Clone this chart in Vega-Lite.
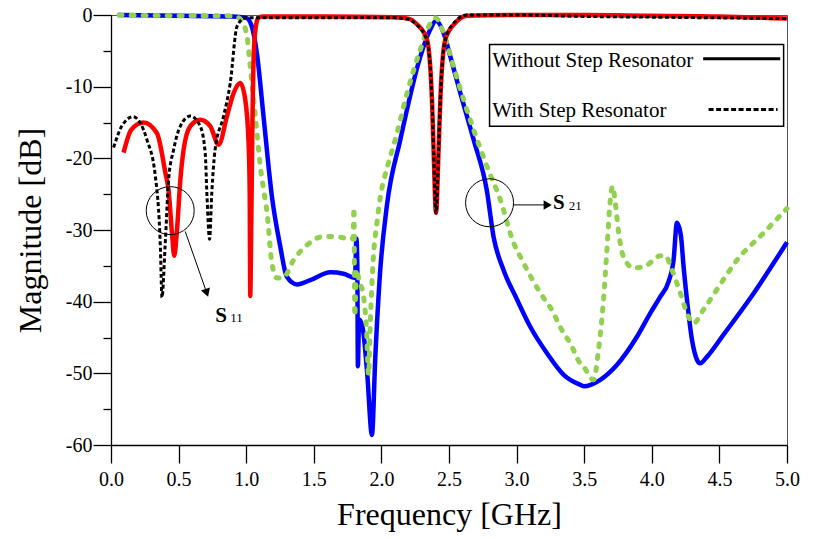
{
  "$schema": "https://vega.github.io/schema/vega-lite/v6.json",
  "width": 676,
  "height": 430,
  "autosize": {"type": "none"},
  "padding": {"left": 111, "top": 15, "right": 32, "bottom": 94},
  "background": "white",
  "config": {
    "view": {"stroke": "#555", "strokeWidth": 1},
    "font": "Liberation Serif",
    "style": {"guide-label": {"font": "Liberation Serif", "fontSize": 20}, "guide-title": {"font": "Liberation Serif", "fontSize": 32}},
    "axis": {
      "grid": false, "domainColor": "black", "tickColor": "black", "domainWidth": 1.3, "tickWidth": 1.3,
      "labelColor": "black", "titleColor": "black", "labelFont": "Liberation Serif", "titleFont": "Liberation Serif",
      "labelFontSize": 20, "titleFontSize": 32, "titleFontWeight": "normal", "labelFlush": false, "labelOverlap": false
    }
  },
  "datasets": {
    "s11a": [
      {"f":0.093,"db":-19.2},{"f":0.15,"db":-16.0},{"f":0.241,"db":-15.0},{"f":0.34,"db":-16.5},{"f":0.402,"db":-22},{"f":0.426,"db":-24.5},{"f":0.451,"db":-30.4},{"f":0.468,"db":-33.6},{"f":0.488,"db":-30},{"f":0.513,"db":-23},{"f":0.537,"db":-18.8},{"f":0.587,"db":-15.5},{"f":0.66,"db":-14.6},{"f":0.734,"db":-15.5},{"f":0.796,"db":-18.1},{"f":0.858,"db":-14.1},{"f":0.907,"db":-10.9},{"f":0.956,"db":-9.5},{"f":0.993,"db":-11.8},{"f":1.018,"db":-18},{"f":1.026,"db":-25},{"f":1.03,"db":-39.2},{"f":1.037,"db":-30},{"f":1.046,"db":-15},{"f":1.058,"db":-4.5},{"f":1.075,"db":-1.2},{"f":1.09,"db":-0.4},{"f":1.12,"db":-0.2},{"f":1.6,"db":-0.2},{"f":2.1,"db":-0.3},{"f":2.2,"db":-0.5},{"f":2.263,"db":-1.3},{"f":2.337,"db":-3.4},{"f":2.374,"db":-11.8},{"f":2.386,"db":-18.8},{"f":2.404,"db":-27.6},{"f":2.423,"db":-18.8},{"f":2.436,"db":-11.8},{"f":2.473,"db":-3.4},{"f":2.547,"db":-1.1},{"f":2.633,"db":-0.1},{"f":3.0,"db":0},{"f":3.5,"db":0},{"f":4.0,"db":-0.1},{"f":4.5,"db":-0.2},{"f":5.0,"db":-0.5}
    ],
    "s11b": [
      {"f":0.019,"db":-18.5},{"f":0.08,"db":-15.5},{"f":0.163,"db":-14.2},{"f":0.266,"db":-17.4},{"f":0.328,"db":-22.5},{"f":0.365,"db":-32.3},{"f":0.377,"db":-39.4},{"f":0.40,"db":-32.3},{"f":0.426,"db":-23},{"f":0.463,"db":-18.8},{"f":0.513,"db":-15.5},{"f":0.587,"db":-14.1},{"f":0.66,"db":-15.5},{"f":0.697,"db":-19.3},{"f":0.71,"db":-25.3},{"f":0.729,"db":-31.3},{"f":0.745,"db":-25},{"f":0.77,"db":-18.8},{"f":0.833,"db":-14.1},{"f":0.882,"db":-9.5},{"f":0.932,"db":-1.6},{"f":0.993,"db":-0.4},{"f":1.5,"db":-0.4},{"f":2.1,"db":-0.4},{"f":2.2,"db":-0.6},{"f":2.263,"db":-1.4},{"f":2.337,"db":-3.5},{"f":2.374,"db":-11.8},{"f":2.386,"db":-18.8},{"f":2.404,"db":-27.6},{"f":2.423,"db":-18.8},{"f":2.436,"db":-11.8},{"f":2.473,"db":-3.4},{"f":2.547,"db":-0.9},{"f":2.633,"db":0},{"f":3.0,"db":0},{"f":3.5,"db":-0.2},{"f":4.0,"db":-0.3},{"f":4.5,"db":-0.4},{"f":5.0,"db":-0.5}
    ],
    "s21a": [
      {"f":0.05,"db":0},{"f":0.5,"db":-0.1},{"f":0.9,"db":-0.2},{"f":1.0,"db":-0.4},{"f":1.04,"db":-1.5},{"f":1.08,"db":-5.5},{"f":1.13,"db":-14.5},{"f":1.19,"db":-25.3},{"f":1.252,"db":-32.3},{"f":1.30,"db":-36.5},{"f":1.376,"db":-37.6},{"f":1.474,"db":-37.0},{"f":1.622,"db":-35.9},{"f":1.72,"db":-36.1},{"f":1.805,"db":-36.7},{"f":1.815,"db":-31.2},{"f":1.822,"db":-35},{"f":1.826,"db":-49},{"f":1.835,"db":-42.5},{"f":1.86,"db":-43.5},{"f":1.895,"db":-50},{"f":1.93,"db":-58.6},{"f":1.955,"db":-47.7},{"f":1.99,"db":-36.0},{"f":2.04,"db":-26.7},{"f":2.14,"db":-17.4},{"f":2.288,"db":-5.8},{"f":2.362,"db":-2.0},{"f":2.404,"db":-0.8},{"f":2.46,"db":-2.5},{"f":2.51,"db":-5.8},{"f":2.584,"db":-10.9},{"f":2.682,"db":-17.4},{"f":2.78,"db":-24.5},{"f":2.83,"db":-31.0},{"f":2.904,"db":-35.6},{"f":3.003,"db":-39.7},{"f":3.101,"db":-43.5},{"f":3.225,"db":-47.2},{"f":3.348,"db":-50.2},{"f":3.47,"db":-51.6},{"f":3.496,"db":-51.8},{"f":3.619,"db":-50.9},{"f":3.743,"db":-48.8},{"f":3.89,"db":-44.9},{"f":3.989,"db":-41.6},{"f":4.063,"db":-39.3},{"f":4.124,"db":-37.2},{"f":4.161,"db":-34.2},{"f":4.186,"db":-29.0},{"f":4.216,"db":-30.9},{"f":4.235,"db":-35.1},{"f":4.26,"db":-39.7},{"f":4.297,"db":-45.3},{"f":4.334,"db":-48.1},{"f":4.358,"db":-48.6},{"f":4.408,"db":-47.7},{"f":4.531,"db":-44.6},{"f":4.729,"db":-39.5},{"f":5.0,"db":-31.7}
    ],
    "s21b": [
      {"f":0.06,"db":0},{"f":0.5,"db":-0.1},{"f":0.85,"db":-0.1},{"f":0.932,"db":-0.3},{"f":0.969,"db":-0.9},{"f":1.006,"db":-3.0},{"f":1.03,"db":-7.2},{"f":1.055,"db":-11.8},{"f":1.08,"db":-16.5},{"f":1.104,"db":-21.1},{"f":1.129,"db":-24.4},{"f":1.154,"db":-27.6},{"f":1.19,"db":-34.6},{"f":1.228,"db":-36.7},{"f":1.277,"db":-36.6},{"f":1.35,"db":-34.2},{"f":1.45,"db":-32.1},{"f":1.572,"db":-30.9},{"f":1.696,"db":-31.0},{"f":1.77,"db":-31.3},{"f":1.79,"db":-31.2},{"f":1.797,"db":-26.9},{"f":1.803,"db":-42.0},{"f":1.815,"db":-35.5},{"f":1.835,"db":-37.0},{"f":1.868,"db":-39.3},{"f":1.89,"db":-44.0},{"f":1.905,"db":-50.2},{"f":1.918,"db":-43.0},{"f":1.94,"db":-34.0},{"f":1.967,"db":-29.0},{"f":2.0,"db":-24.5},{"f":2.016,"db":-23.2},{"f":2.115,"db":-16.5},{"f":2.19,"db":-10.9},{"f":2.288,"db":-4.8},{"f":2.35,"db":-1.6},{"f":2.40,"db":-0.4},{"f":2.46,"db":-2.5},{"f":2.534,"db":-7.2},{"f":2.608,"db":-11.8},{"f":2.682,"db":-16.0},{"f":2.78,"db":-21.1},{"f":2.88,"db":-25.8},{"f":2.978,"db":-31.8},{"f":3.027,"db":-33.7},{"f":3.2,"db":-39.5},{"f":3.249,"db":-40.8},{"f":3.348,"db":-44.4},{"f":3.397,"db":-45.8},{"f":3.47,"db":-48.6},{"f":3.496,"db":-49.1},{"f":3.57,"db":-50.9},{"f":3.606,"db":-46.7},{"f":3.643,"db":-39.7},{"f":3.668,"db":-32.8},{"f":3.693,"db":-25.8},{"f":3.71,"db":-23.9},{"f":3.73,"db":-26.2},{"f":3.755,"db":-30.4},{"f":3.79,"db":-33.7},{"f":3.866,"db":-35.3},{"f":3.964,"db":-34.9},{"f":4.063,"db":-33.6},{"f":4.1,"db":-33.6},{"f":4.15,"db":-35.6},{"f":4.211,"db":-38.8},{"f":4.26,"db":-41.6},{"f":4.309,"db":-43.0},{"f":4.383,"db":-41.1},{"f":4.482,"db":-38.3},{"f":4.63,"db":-34.2},{"f":4.827,"db":-30.4},{"f":5.0,"db":-27.0}
    ],
    "circles": [{"f":0.438,"db":-27.3},{"f":2.80,"db":-26.2}],
    "arrow1": [{"f":0.549,"db":-30.2,"f2":0.705,"db2":-38.6}],
    "arrow2": [{"f":2.978,"db":-26.5,"f2":3.22,"db2":-26.5}],
    "legendbox": [{"f":2.80,"f2":4.975,"db":-4.12,"db2":-15.53}],
    "legendsolid": [{"f":4.38,"f2":4.95,"db":-6.12,"db2":-6.12}],
    "legenddot": [{"f":4.42,"f2":4.93,"db":-13.2,"db2":-13.2}],
    "legendtext": [{"f":2.82,"db":-7.2,"label":"Without Step Resonator"},{"f":2.82,"db":-14.2,"label":"With Step Resonator"}],
    "sletter": [{"f":0.771,"db":-42.8,"label":"S"},{"f":3.269,"db":-27.1,"label":"S"}],
    "ssub": [{"f":0.882,"db":-42.9,"label":"11"},{"f":3.385,"db":-27.2,"label":"21"}]
  },
  "encoding": {
    "x": {
      "field": "f", "type": "quantitative",
      "scale": {"domain": [0, 5], "nice": false, "zero": false},
      "axis": {"title": "Frequency [GHz]", "values": [0,0.5,1,1.5,2,2.5,3,3.5,4,4.5,5], "format": ".1f", "tickSize": 18, "labelPadding": 6, "titlePadding": 10, "labelFont": "Liberation Serif", "labelFontSize": 20, "titleFont": "Liberation Serif"}
    },
    "y": {
      "field": "db", "type": "quantitative",
      "scale": {"domain": [-60, 0], "nice": false},
      "axis": {
        "title": "Magnitude [dB]",
        "values": [-60,-55,-50,-45,-40,-35,-30,-25,-20,-15,-10,-5,0],
        "tickSize": {"condition": {"test": "datum.value % 10 === 0", "value": 18}, "value": 8},
        "labelExpr": "datum.value % 10 === 0 ? (datum.value < 0 ? '-' + toString(-datum.value) : '0') : ''",
        "labelPadding": 1, "titlePadding": 18, "labelFont": "Liberation Serif", "labelFontSize": 20, "titleFont": "Liberation Serif"
      }
    }
  },
  "layer": [
    {"data": {"name": "s21a"}, "mark": {"type": "line", "color": "#0000FF", "strokeWidth": 4.5, "interpolate": "monotone"}},
    {"data": {"name": "s21b"}, "mark": {"type": "line", "color": "#92D050", "strokeWidth": 5, "strokeDash": [3, 9], "strokeCap": "round", "interpolate": "monotone"}},
    {"data": {"name": "s11a"}, "mark": {"type": "line", "color": "#FF0000", "strokeWidth": 4.5, "interpolate": "monotone"}},
    {"data": {"name": "s11b"}, "mark": {"type": "line", "color": "#000000", "strokeWidth": 3, "strokeDash": [4, 2.5], "interpolate": "monotone"}},
    {"data": {"name": "circles"}, "mark": {"type": "point", "shape": "circle", "size": 2304, "filled": false, "stroke": "black", "strokeWidth": 1, "opacity": 1}},
    {"data": {"name": "arrow1"}, "mark": {"type": "rule", "color": "black", "strokeWidth": 1}, "encoding": {"x2": {"field": "f2"}, "y2": {"field": "db2"}}},
    {"data": {"name": "arrow2"}, "mark": {"type": "rule", "color": "black", "strokeWidth": 1}, "encoding": {"x2": {"field": "f2"}, "y2": {"field": "db2"}}},
    {"data": {"name": "arrow1"}, "mark": {"type": "point", "shape": "triangle", "filled": true, "color": "black", "size": 90, "angle": 161, "opacity": 1}, "encoding": {"x": {"field": "f2", "type": "quantitative"}, "y": {"field": "db2", "type": "quantitative"}}},
    {"data": {"name": "arrow2"}, "mark": {"type": "point", "shape": "triangle", "filled": true, "color": "black", "size": 90, "angle": 90, "opacity": 1}, "encoding": {"x": {"field": "f2", "type": "quantitative"}, "y": {"field": "db2", "type": "quantitative"}}},
    {"data": {"name": "legendbox"}, "mark": {"type": "rect", "fill": "white", "stroke": "black", "strokeWidth": 1.5}, "encoding": {"x2": {"field": "f2"}, "y2": {"field": "db2"}}},
    {"data": {"name": "legendsolid"}, "mark": {"type": "rule", "color": "black", "strokeWidth": 3}, "encoding": {"x2": {"field": "f2"}, "y2": {"field": "db2"}}},
    {"data": {"name": "legenddot"}, "mark": {"type": "rule", "color": "black", "strokeWidth": 3, "strokeDash": [5, 2.5]}, "encoding": {"x2": {"field": "f2"}, "y2": {"field": "db2"}}},
    {"data": {"name": "legendtext"}, "mark": {"type": "text", "align": "left", "baseline": "alphabetic", "fontSize": 21, "font": "Liberation Serif", "color": "black"}, "encoding": {"text": {"field": "label"}}},
    {"data": {"name": "sletter"}, "mark": {"type": "text", "align": "left", "baseline": "alphabetic", "fontSize": 21, "fontWeight": "bold", "font": "Liberation Serif", "color": "black"}, "encoding": {"text": {"field": "label"}}},
    {"data": {"name": "ssub"}, "mark": {"type": "text", "align": "left", "baseline": "alphabetic", "fontSize": 13, "font": "Liberation Serif", "color": "black"}, "encoding": {"text": {"field": "label"}}}
  ]
}
